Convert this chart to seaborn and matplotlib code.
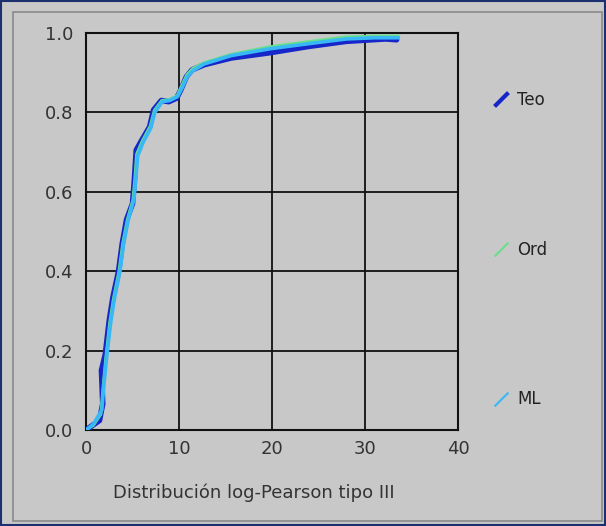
"""
plot.py - CDF comparison chart (log-Pearson tipo III), Teo / Ord / ML.
"""
import matplotlib
matplotlib.use("Agg")
import matplotlib.pyplot as plt
from matplotlib.lines import Line2D
from matplotlib.patches import Rectangle
import pandas as pd
import seaborn as sns

# ── Data ──────────────────────────────────────────────────────────────────
teo_x = [0.0, 0.6, 1.45, 1.8, 1.66, 2.07, 2.5, 2.9, 3.5, 3.9, 4.36, 5.0, 5.2, 5.4,
         6.0, 6.85, 7.26, 8.1, 8.9, 9.75, 10.2, 10.8, 11.4, 12.7, 15.6, 19.7,
         23.9, 28.0, 32.2, 33.4]
teo_y = [0.0, 0.01, 0.024, 0.066, 0.15, 0.19, 0.276, 0.335, 0.40, 0.47, 0.53, 0.57,
         0.63, 0.705, 0.73, 0.764, 0.806, 0.83, 0.827, 0.836, 0.857, 0.89, 0.907,
         0.92, 0.937, 0.95, 0.966, 0.979, 0.985, 0.983]

ord_x = [0.0, 0.8, 1.6, 1.85, 2.15, 2.55, 2.95, 3.55, 3.95, 4.45, 5.05, 5.25, 5.45,
         6.05, 6.9, 7.35, 8.15, 8.95, 9.8, 10.25, 10.85, 11.45, 12.7, 15.6, 19.7,
         23.9, 28.0, 31.0, 33.6]
ord_y = [0.0, 0.012, 0.04, 0.11, 0.185, 0.27, 0.33, 0.40, 0.47, 0.53, 0.58, 0.63,
         0.695, 0.728, 0.765, 0.805, 0.83, 0.832, 0.842, 0.865, 0.895, 0.91, 0.925,
         0.946, 0.965, 0.978, 0.99, 0.992, 0.992]

ml_x = [0.0, 0.8, 1.7, 1.95, 2.25, 2.65, 3.05, 3.65, 4.05, 4.55, 5.15, 5.35, 5.55,
        6.15, 6.95, 7.4, 8.2, 9.0, 9.85, 10.3, 10.9, 11.5, 12.7, 15.6, 19.7,
        23.9, 28.0, 31.0, 33.6]
ml_y = [0.0, 0.015, 0.05, 0.12, 0.19, 0.27, 0.33, 0.40, 0.47, 0.53, 0.58, 0.63,
        0.69, 0.725, 0.76, 0.80, 0.827, 0.83, 0.84, 0.86, 0.89, 0.905, 0.922,
        0.943, 0.96, 0.973, 0.985, 0.988, 0.988]

series_names = ["Teo", "Ord", "ML"]
series_colors = {"Teo": "#1626c8", "Ord": "#66e08a", "ML": "#38b8f5"}
series_widths = {"Teo": 4.0, "Ord": 2.2, "ML": 2.6}

x_ticks = [0, 10, 20, 30, 40]
y_ticks = [0.0, 0.2, 0.4, 0.6, 0.8, 1.0]
x_label = "Distribución log-Pearson tipo III"

BG = "#c8c8c8"
TXT = "#333333"

# ── Figure ────────────────────────────────────────────────────────────────
sns.set_theme(style="white")
plt.rcParams["font.family"] = ["DejaVu Sans"]

fig = plt.figure(figsize=(6.06, 5.26), dpi=100, facecolor=BG)
ax = fig.add_axes([86 / 606, 1 - 430 / 526, 372 / 606, 397 / 526])
ax.set_facecolor(BG)

# panel frame (bevelled look)
fig.patches.append(Rectangle((0.0015, 0.002), 0.997, 0.996, transform=fig.transFigure,
                             fill=False, edgecolor="#1c2f6e", linewidth=1.5))
fig.patches.append(Rectangle((13 / 606, 5 / 526), 589 / 606, 509 / 526,
                             transform=fig.transFigure, fill=False,
                             edgecolor="#8a8a8a", linewidth=1.2))

frames = [
    pd.DataFrame({"x": teo_x, "y": teo_y, "serie": "Teo"}),
    pd.DataFrame({"x": ord_x, "y": ord_y, "serie": "Ord"}),
    pd.DataFrame({"x": ml_x, "y": ml_y, "serie": "ML"}),
]
for df in frames:
    name = df["serie"].iloc[0]
    sns.lineplot(data=df, x="x", y="y", sort=False, estimator=None,
                 color=series_colors[name], linewidth=series_widths[name],
                 ax=ax, legend=False, zorder=3)

ax.set_xlim(0, 40)
ax.set_ylim(0, 1.0)
ax.set_xticks(x_ticks)
ax.set_yticks(y_ticks)
ax.set_xticklabels([str(t) for t in x_ticks])
ax.set_yticklabels([f"{t:.1f}" for t in y_ticks])
ax.grid(True, color="#111111", linewidth=1.3)
ax.set_axisbelow(True)
for side in ["left", "right", "top", "bottom"]:
    ax.spines[side].set_visible(True)
    ax.spines[side].set_color("#111111")
    ax.spines[side].set_linewidth(1.5)
ax.tick_params(axis="both", direction="out", length=4, width=1, color=TXT,
               labelsize=13, labelcolor=TXT, pad=5)
ax.tick_params(axis="x", pad=3)
ax.set_xlabel(x_label, fontsize=13, color=TXT)
ax.xaxis.set_label_coords((254 - 86) / 372, -0.135)
ax.set_ylabel("")

# legend with short diagonal strokes, widely spaced
diag = [(-1, -1), (1, 1)]
handles = [Line2D([], [], linestyle="none", marker=diag, markersize=10,
                  markeredgewidth=3 if n == "Teo" else 1.5,
                  markeredgecolor=series_colors[n]) for n in series_names]
fig.legend(handles, series_names, loc="upper left",
           bbox_to_anchor=(478 / 606, 1 - 76 / 526), frameon=False,
           fontsize=12, labelspacing=7.9, handlelength=1.0, handletextpad=0.45,
           labelcolor="#222222")

fig.savefig("out.png", dpi=100, facecolor=BG)
plt.close(fig)
